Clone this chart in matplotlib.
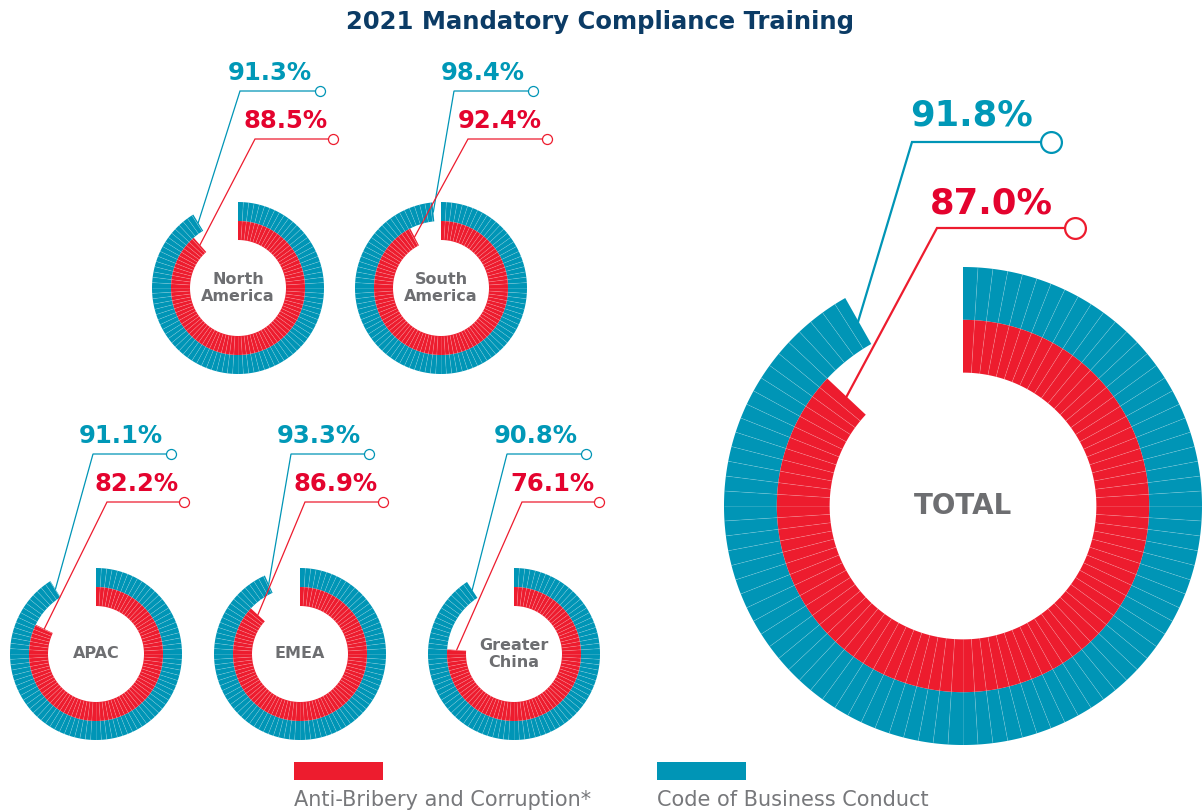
import numpy as np
import matplotlib.pyplot as plt
from matplotlib.collections import LineCollection
from matplotlib.patches import Rectangle

W, H = 1202, 810

regions = ['North\nAmerica', 'South\nAmerica', 'APAC', 'EMEA', 'Greater\nChina', 'TOTAL']
anti_bribery = [88.5, 92.4, 82.2, 86.9, 76.1, 87.0]
business_conduct = [91.3, 98.4, 91.1, 93.3, 90.8, 91.8]
legend_labels = ['Anti-Bribery and Corruption*', 'Code of Business Conduct']

# layout, in pixels measured from the top-left corner
centers = [(238, 288), (441, 288), (96, 654), (300, 654), (514, 654), (963, 506)]
radii = [86, 86, 86, 86, 86, 239]
teal_elbow = [(240, 91), (454, 91), (93, 454), (291, 454), (507, 454), (912, 142)]
red_elbow = [(255, 139), (468, 139), (107, 502), (305, 502), (522, 502), (937, 228)]
teal_dot = [320, 533, 171, 369, 586, 1051]
red_dot = [333, 547, 184, 383, 599, 1075]

RED = '#ed1c2e'
TEAL = '#0095b6'
RED_TXT = '#e4032e'
TEAL_TXT = '#0098b7'
GREY = '#6d6e71'
NAVY = '#0b3b65'


def Y(y):
    return H - y


def ring(ax, cx, cy, r_out, width, value, color):
    whole = int(value)
    segs = [1.0] * whole
    if value - whole > 1e-9:
        segs.append(value - whole)
    ax.pie(segs + [100 - value], radius=r_out, center=(cx, cy),
           startangle=90, counterclock=False,
           colors=[color] * len(segs) + ['none'],
           wedgeprops=dict(width=width, linewidth=0))
    # thin separators between the 1% cells
    ang = np.deg2rad(90 - 3.6 * np.arange(1, int(np.ceil(value))))
    r_in = r_out - width
    segs_xy = [[(cx + r_in * np.cos(a), cy + r_in * np.sin(a)),
                (cx + r_out * np.cos(a), cy + r_out * np.sin(a))] for a in ang]
    ax.add_collection(LineCollection(segs_xy, colors='white', alpha=0.22,
                                     linewidths=0.5, zorder=3))


def leader(ax, cx, cy, r_mid, value, elbow, dot_x, color, txt_color,
           lw, ms, fs, tx_off, ty_off):
    a = np.deg2rad(90 - 3.6 * value)
    sx, sy = cx + r_mid * np.cos(a), cy + r_mid * np.sin(a)
    ex, ey = elbow[0], Y(elbow[1])
    ax.plot([sx, ex, dot_x], [sy, ey, ey], color=color, lw=lw,
            solid_joinstyle='miter', zorder=1)
    ax.plot(dot_x, ey, 'o', ms=ms, mfc='white', mec=color, mew=lw, zorder=2)
    ax.text(dot_x - tx_off, ey + ty_off, f'{value:.1f}%', color=txt_color,
            fontsize=fs, fontweight='bold', ha='right', va='baseline')


fig = plt.figure(figsize=(W / 100, H / 100), dpi=100)
ax = fig.add_axes([0, 0, 1, 1])

for i, name in enumerate(regions):
    cx, cy = centers[i][0], Y(centers[i][1])
    r = radii[i]
    w = 0.221 * r
    big = i == len(regions) - 1
    ring(ax, cx, cy, r, w, business_conduct[i], TEAL)
    ring(ax, cx, cy, r - w, w, anti_bribery[i], RED)

    if big:
        lw, ms, fs = 1.6, 15, 25.5
        offs = [(18, 17), (22, 15)]
        cfs = 20
    else:
        lw, ms, fs = 0.9, 7.2, 17.5
        offs = [(8, 11), (5, 11)]
        cfs = 11.5
    leader(ax, cx, cy, r - w / 2, business_conduct[i], teal_elbow[i], teal_dot[i],
           TEAL, TEAL_TXT, lw, ms, fs, *offs[0])
    leader(ax, cx, cy, r - 1.5 * w, anti_bribery[i], red_elbow[i], red_dot[i],
           RED, RED_TXT, lw, ms, fs, *offs[1])
    ax.text(cx, cy, name, ha='center', va='center', color=GREY,
            fontsize=cfs, fontweight='bold', linespacing=1.1)

ax.text(600, Y(22), '2021 Mandatory Compliance Training', ha='center', va='center',
        color=NAVY, fontsize=17.5, fontweight='bold')

# legend
for x0, col, lab in [(294, RED, legend_labels[0]), (657, TEAL, legend_labels[1])]:
    ax.add_patch(Rectangle((x0, Y(780)), 89, 18, color=col, lw=0))
    ax.text(x0, Y(800), lab, ha='left', va='center', color='#77787b', fontsize=15)

ax.set_xlim(0, W)
ax.set_ylim(0, H)
ax.set_aspect('equal')
ax.axis('off')
fig.savefig('out.png', dpi=100)
